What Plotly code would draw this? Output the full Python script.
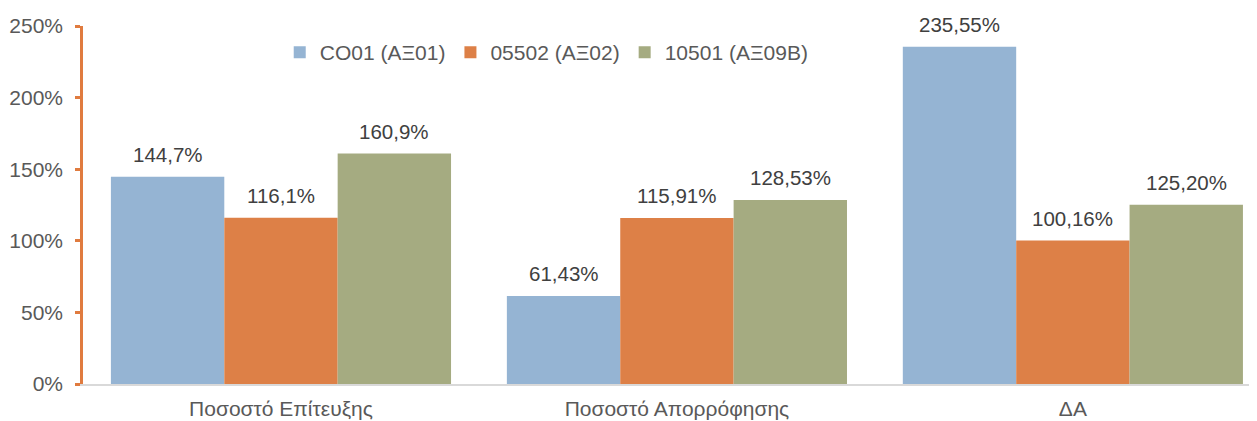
import plotly.graph_objects as go

categories = ["Ποσοστό Επίτευξης", "Ποσοστό Απορρόφησης", "ΔΑ"]
series_names = ["CO01 (ΑΞ01)", "05502 (ΑΞ02)", "10501 (ΑΞ09Β)"]
values_co01 = [1.447, 0.6143, 2.3555]
values_05502 = [1.161, 1.1591, 1.0016]
values_10501 = [1.609, 1.2853, 1.2520]
labels_co01 = ["144,7%", "61,43%", "235,55%"]
labels_05502 = ["116,1%", "115,91%", "100,16%"]
labels_10501 = ["160,9%", "128,53%", "125,20%"]
tick_vals = [0, 0.5, 1.0, 1.5, 2.0, 2.5]
tick_text = ["0%", "50%", "100%", "150%", "200%", "250%"]

colors = ["#95B4D3", "#DD8047", "#A5AB81"]
FONT = "Liberation Sans, Arial"
BARGAP = 0.141

fig = go.Figure()
all_vals = [values_co01, values_05502, values_10501]
all_labs = [labels_co01, labels_05502, labels_10501]
n_series = len(series_names)
bar_w = (1 - BARGAP) / n_series
for si, (name, vals, labs, col) in enumerate(zip(series_names, all_vals, all_labs, colors)):
    xs = list(range(len(categories)))
    fig.add_trace(go.Bar(
        x=xs, y=vals, name=name,
        marker=dict(color=col, line=dict(width=0)),
    ))
    off = (si - (n_series - 1) / 2) * bar_w
    for xi, v, lab in zip(xs, vals, labs):
        fig.add_annotation(
            x=xi + off, y=v, xref="x", yref="y", text=lab, showarrow=False,
            yanchor="bottom", yshift=9,
            font=dict(family=FONT, size=20.5, color="#404040"),
        )

fig.update_layout(
    width=1257, height=421,
    margin=dict(l=75, r=8, t=18, b=45),
    paper_bgcolor="white", plot_bgcolor="white",
    barmode="group", bargap=BARGAP, bargroupgap=0,
    font=dict(family=FONT, size=21, color="#595959"),
    legend=dict(orientation="h", x=0.395, xanchor="center", y=0.926, yanchor="middle",
                font=dict(size=21, color="#595959"), bgcolor="rgba(0,0,0,0)",
                itemwidth=30, traceorder="normal"),
    showlegend=True,
)
fig.update_xaxes(
    tickvals=list(range(len(categories))), ticktext=categories,
    range=[-0.5, 2.465], showgrid=False, zeroline=False, automargin=False,
    showline=True, linecolor="#D9D9D9", linewidth=1.5,
    ticks="", tickfont=dict(size=21, color="#595959"), ticklabelstandoff=5,
)
fig.update_yaxes(
    range=[0, 2.5], tickvals=tick_vals, ticktext=tick_text,
    showgrid=False, zeroline=False, automargin=False,
    showline=True, linecolor="#E07B3F", linewidth=2.5,
    ticks="outside", ticklen=5, tickwidth=2.5, tickcolor="#E07B3F",
    tickfont=dict(size=21, color="#595959"), ticklabelstandoff=8,
)

fig.write_html("out.html")
